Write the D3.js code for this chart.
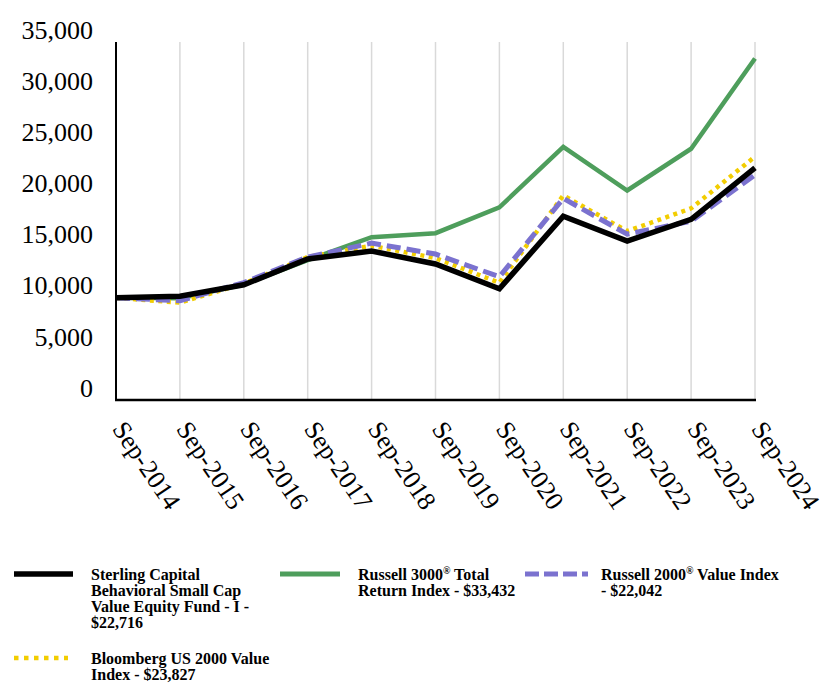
<!DOCTYPE html>
<html><head><meta charset="utf-8">
<script src="https://cdn.jsdelivr.net/npm/d3@7"></script>
<style>body{margin:0;background:#fff}svg{display:block}</style>
</head><body>
<script>
const categories = ["Sep-2014","Sep-2015","Sep-2016","Sep-2017","Sep-2018","Sep-2019","Sep-2020","Sep-2021","Sep-2022","Sep-2023","Sep-2024"];
const fundValues = [10000,10150,11280,13800,14580,13320,10890,17990,15560,17690,22716];
const russell3000Values = [10000,9950,11300,13700,15940,16330,18860,24790,20510,24600,33432];
const russell2000ValueValues = [10000,9720,11500,14000,15360,14290,12060,19740,16230,17500,22042];
const bloombergValues = [10000,9530,11400,14000,15100,13900,11470,20030,16530,18760,23827];
const yTicks = [0,5000,10000,15000,20000,25000,30000,35000];
const seriesNames = [
  ["Sterling Capital","Behavioral Small Cap","Value Equity Fund - I -","$22,716"],
  ["Russell 3000\u00AE Total","Return Index - $33,432"],
  ["Russell 2000\u00AE Value Index","- $22,042"],
  ["Bloomberg US 2000 Value","Index - $23,827"]
];

const W=828,H=684;
const svg=d3.select("body").append("svg").attr("width",W).attr("height",H);
const x=d3.scalePoint().domain(categories).range([116,755]);
const y=d3.scaleLinear().domain([0,35000]).range([400,42.5]);

// vertical gridlines
svg.append("g").selectAll("line").data(categories).join("line")
  .attr("x1",d=>x(d)).attr("x2",d=>x(d)).attr("y1",42).attr("y2",400)
  .attr("stroke","#d9d9d9").attr("stroke-width",1.5);

// y axis labels
const yAxis=d3.axisLeft(y).tickValues(yTicks).tickFormat(d3.format(",")).tickSize(0).tickPadding(23);
const gy=svg.append("g").attr("transform","translate(116,0)").call(yAxis);
gy.select(".domain").remove();
gy.selectAll("text").attr("font-family","'Liberation Serif','Times New Roman',serif")
  .attr("font-size",26).attr("fill","#000").attr("dy","-0.15em");

// x axis labels
const xAxis=d3.axisBottom(x).tickSize(0).tickPadding(0);
const gx=svg.append("g").attr("transform","translate(0,400)").call(xAxis);
gx.select(".domain").remove();
gx.selectAll("text").attr("font-family","'Liberation Serif','Times New Roman',serif")
  .attr("font-size",26).attr("fill","#000")
  .attr("text-anchor","start").attr("dy",0).attr("y",0)
  .attr("transform","translate(-5,29) rotate(56)");

const seriesStyles=[
  {vals:russell3000Values,color:"#4e9e5c",w:4.5,dash:null},
  {vals:bloombergValues,color:"#f2cd00",w:4.5,dash:"4,4.5"},
  {vals:russell2000ValueValues,color:"#7b72cf",w:5,dash:"14,6"},
  {vals:fundValues,color:"#000000",w:5.5,dash:null}
];
const line=d3.line().x((d,i)=>x(categories[i])).y(d=>y(d));
seriesStyles.forEach(s=>{
  svg.append("path").datum(s.vals).attr("d",line).attr("fill","none")
    .attr("stroke",s.color).attr("stroke-width",s.w)
    .attr("stroke-dasharray",s.dash).attr("stroke-linejoin","miter");
});

// axes lines
svg.append("line").attr("x1",116).attr("x2",116).attr("y1",42).attr("y2",401).attr("stroke","#000").attr("stroke-width",2);
svg.append("line").attr("x1",115).attr("x2",756).attr("y1",400).attr("y2",400).attr("stroke","#000").attr("stroke-width",2.5);

// legend
const legendItems=[
  {x1:14,x2:73,ly:574,tx:91,ty:580,color:"#000",w:5.5,dash:null,lines:seriesNames[0]},
  {x1:280,x2:340,ly:574,tx:358,ty:580,color:"#4e9e5c",w:5,dash:null,lines:seriesNames[1]},
  {x1:525,x2:588,ly:574,tx:601,ty:580,color:"#7b72cf",w:5,dash:"14,5",lines:seriesNames[2]},
  {x1:14,x2:68,ly:658,tx:91,ty:664,color:"#f2cd00",w:4.5,dash:"4.5,5.5",lines:seriesNames[3]}
];
legendItems.forEach(it=>{
  svg.append("line").attr("x1",it.x1).attr("x2",it.x2).attr("y1",it.ly).attr("y2",it.ly)
    .attr("stroke",it.color).attr("stroke-width",it.w).attr("stroke-dasharray",it.dash);
  const t=svg.append("text").attr("font-family","'Liberation Serif','Times New Roman',serif")
    .attr("font-size",16).attr("font-weight","bold").attr("fill","#000");
  it.lines.forEach((ln,i)=>{
    const ts=t.append("tspan").attr("x",it.tx).attr("y",it.ty+i*16);
    const parts=ln.split("\u00AE");
    ts.text(parts[0]);
    if(parts.length>1){
      ts.append("tspan").attr("font-size",10).attr("dy",-6).text("\u00AE");
      ts.append("tspan").attr("dy",6).text(parts[1]);
    }
  });
});
</script>
</body></html>
